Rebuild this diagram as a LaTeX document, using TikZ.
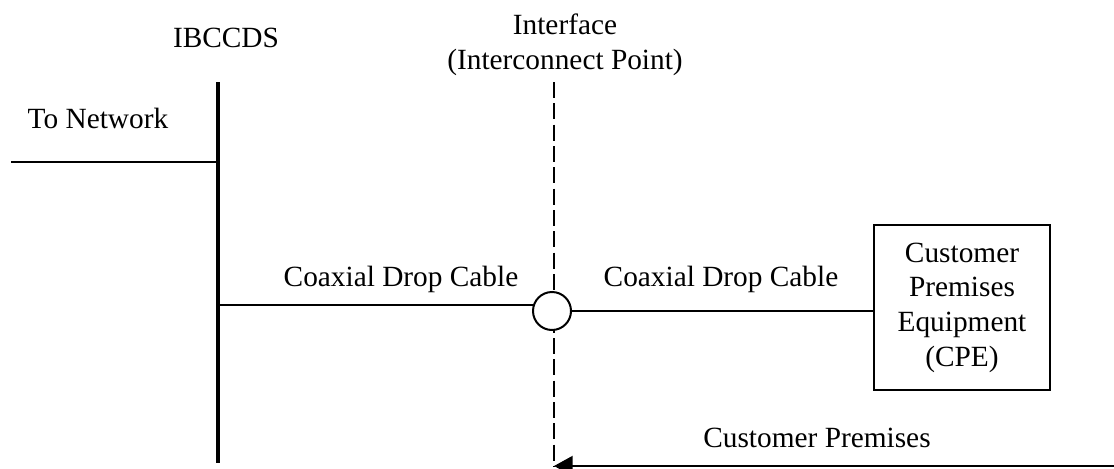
\documentclass[tikz,border=0pt]{standalone}
\usepackage{fontspec}
\setmainfont{Liberation Serif}
\usetikzlibrary{arrows.meta}

\tikzset{
  lbl/.style={inner sep=0.75pt, font=\fontsize{22}{26}\selectfont, align=center},
  wire/.style={line width=1.5pt},
  bus/.style={line width=3.2pt},
  iface/.style={line width=1.2pt, dash pattern=on 12pt off 4pt}
}

\begin{document}
\begin{tikzpicture}[x=0.75pt,y=0.75pt,yscale=-1,xscale=1]
\useasboundingbox (0,0) rectangle (1114,468);

%Coordinates
\coordinate (ibTop) at (218,82);
\coordinate (ibBot) at (218,463);
\coordinate (netEnd) at (11,162);
\coordinate (ifTop) at (554,82);
\coordinate (ifBot) at (554,467);
\coordinate (dropL) at (218,305);
\coordinate (dropLend) at (540,305);
\coordinate (premEnd) at (1114,466);

%Straight Lines [IBCCDS bus]
\draw [bus] (ibTop) -- (ibBot) ;
%Straight Lines [to network]
\draw [wire] (netEnd) -- (netEnd -| ibTop) ;
%Straight Lines [interface, dashed]
\draw [iface] (ifTop) -- (ifBot) ;
%Straight Lines [left drop cable]
\draw [wire] (dropL) -- (dropLend) ;

%Shape: Circle [interconnect point]
\node [circle, draw, fill=white, line width=1.5pt, minimum size=28.5pt, inner sep=0pt] (jack) at (552,311) {};

%Shape: Rectangle [CPE]
\node [draw, line width=1.5pt, minimum width=132pt, minimum height=123.75pt, lbl] (cpe) at (962,307.5)
  {Customer\\Premises\\Equipment\\(CPE)};

%Straight Lines [right drop cable]
\draw [wire] (jack.east) -- (jack.east -| cpe.west) ;

%Straight Lines [customer premises arrow]
\draw [wire, -{Triangle[length=14pt,width=15pt]}] (premEnd) -- (premEnd -| ifTop) ;

% Text Node
\node [lbl] (ibccds) at (226,38) {IBCCDS};
% Text Node
\node [lbl] (ifLabel) at (565,45) {Interface\\(Interconnect Point)};
% Text Node
\node [lbl] (netLabel) at (98,118) {To Network};
% Text Node
\node [lbl] (coaxL) at (401,279) {Coaxial Drop Cable};
% Text Node
\node [lbl] (coaxR) at (721,279) {Coaxial Drop Cable};
% Text Node
\node [lbl] (premLabel) at (817,438) {Customer Premises};

\end{tikzpicture}
\end{document}
